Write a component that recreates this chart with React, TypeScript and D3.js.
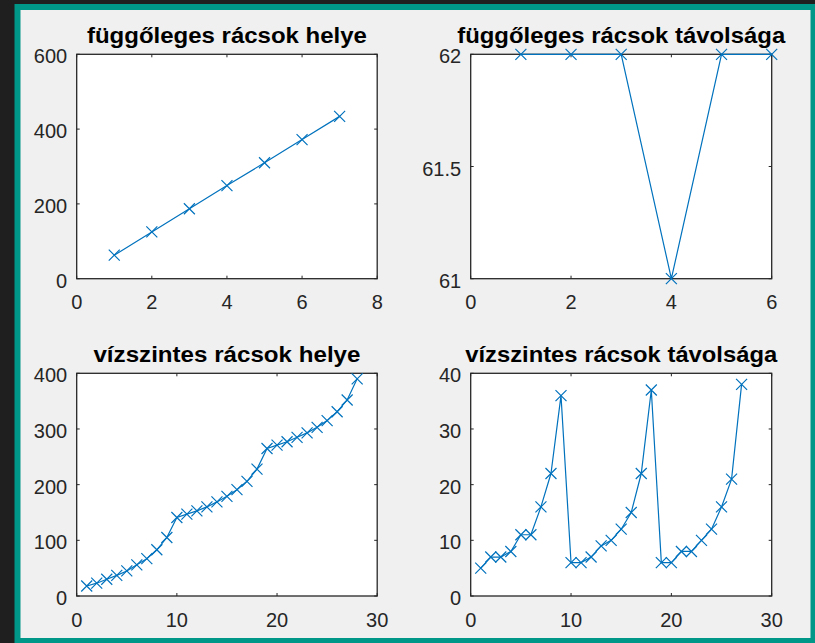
import React from "react";
import * as d3 from "d3";

// Vertical grid lines: positions and spacing
const vertIndex = [1, 2, 3, 4, 5, 6, 7];
const vertPos = [63, 125, 187, 249, 310, 372, 434];
const vertGapIndex = [1, 2, 3, 4, 5, 6];
const vertGap = [62, 62, 62, 61, 62, 62];

// Horizontal grid lines: positions and spacing
const horIndex = [
  1, 2, 3, 4, 5, 6, 7, 8, 9, 10, 11, 12, 13, 14, 15, 16, 17, 18, 19, 20, 21, 22, 23, 24, 25, 26, 27, 28,
];
const horPos = [
  18, 23, 30, 37, 45, 56, 67, 83, 105, 141, 147, 153, 160, 169, 179, 191, 206, 228, 265, 271, 277, 285,
  293, 303, 315, 331, 352, 390,
];
const horGapIndex = [
  1, 2, 3, 4, 5, 6, 7, 8, 9, 10, 11, 12, 13, 14, 15, 16, 17, 18, 19, 20, 21, 22, 23, 24, 25, 26, 27,
];
const horGap = [
  5, 7, 7, 8, 11, 11, 16, 22, 36, 6, 6, 7, 9, 10, 12, 15, 22, 37, 6, 6, 8, 8, 10, 12, 16, 21, 38,
];

const titles = [
  "függőleges rácsok helye",
  "függőleges rácsok távolsága",
  "vízszintes rácsok helye",
  "vízszintes rácsok távolsága",
];
const titleWidths = [280, 328, 267, 312];

const xTicksTL = [0, 2, 4, 6, 8];
const yTicksTL = [0, 200, 400, 600];
const xTicksTR = [0, 2, 4, 6];
const yTicksTR = [61, 61.5, 62];
const xTicksB = [0, 10, 20, 30];
const yTicksBL = [0, 100, 200, 300, 400];
const yTicksBR = [0, 10, 20, 30, 40];

const W = 815;
const H = 643;
const LINE = "#0072BD";
const AXIS = "#262626";
const FONT = "Arial, 'Liberation Sans', Helvetica, sans-serif";

type PanelProps = {
  left: number;
  top: number;
  width: number;
  height: number;
  title: string;
  titleWidth: number;
  xs: number[];
  ys: number[];
  xDomain: [number, number];
  yDomain: [number, number];
  xTicks: number[];
  yTicks: number[];
};

function Panel(p: PanelProps) {
  const x = d3.scaleLinear().domain(p.xDomain).range([p.left, p.left + p.width]);
  const y = d3.scaleLinear().domain(p.yDomain).range([p.top + p.height, p.top]);
  const pts = p.xs.map((v, i) => [x(v), y(p.ys[i])] as [number, number]);
  const path = d3.line()(pts) ?? "";
  const tl = 3;
  const m = 5.5;
  const bottom = p.top + p.height;
  const right = p.left + p.width;
  return (
    <g>
      <rect x={p.left} y={p.top} width={p.width} height={p.height} fill="#ffffff" />
      {p.xTicks.map((t) => (
        <g key={"xt" + t}>
          <line x1={x(t)} x2={x(t)} y1={bottom} y2={bottom - tl} stroke={AXIS} strokeWidth={1} />
          <line x1={x(t)} x2={x(t)} y1={p.top} y2={p.top + tl} stroke={AXIS} strokeWidth={1} />
          <text
            x={x(t)}
            y={bottom + 30.5}
            textAnchor="middle"
            fontFamily={FONT}
            fontSize={20}
            fill={AXIS}
          >
            {t}
          </text>
        </g>
      ))}
      {p.yTicks.map((t) => (
        <g key={"yt" + t}>
          <line x1={p.left} x2={p.left + tl} y1={y(t)} y2={y(t)} stroke={AXIS} strokeWidth={1} />
          <line x1={right} x2={right - tl} y1={y(t)} y2={y(t)} stroke={AXIS} strokeWidth={1} />
          <text
            x={p.left - 9.5}
            y={y(t) + 9}
            textAnchor="end"
            fontFamily={FONT}
            fontSize={20}
            fill={AXIS}
          >
            {t}
          </text>
        </g>
      ))}
      <rect
        x={p.left}
        y={p.top}
        width={p.width}
        height={p.height}
        fill="none"
        stroke={AXIS}
        strokeWidth={1.3}
      />
      <path d={path} fill="none" stroke={LINE} strokeWidth={1.2} />
      {pts.map(([px, py], i) => (
        <path
          key={"m" + i}
          d={`M${px - m},${py - m}L${px + m},${py + m}M${px - m},${py + m}L${px + m},${py - m}`}
          stroke={LINE}
          strokeWidth={1.2}
          fill="none"
        />
      ))}
      <text
        x={p.left + p.width / 2}
        y={p.top - 11.5}
        textAnchor="middle"
        fontFamily={FONT}
        fontWeight="bold"
        fontSize={22}
        textLength={p.titleWidth}
        lengthAdjust="spacingAndGlyphs"
        fill="#000000"
      >
        {p.title}
      </text>
    </g>
  );
}

export default function App() {
  const lx = 76.7;
  const rx = 470.7;
  const w = 300.5;
  const ty = 54.3;
  const by = 373.3;
  const hTop = 224.4;
  const hBot = 222.7;
  return (
    <div style={{ position: "fixed", left: 0, top: 0, width: W, height: H }}>
      <svg width={W} height={H} style={{ display: "block" }}>
        <rect x={0} y={0} width={W} height={H} fill="#1f1f1f" />
        <rect x={14.5} y={4} width={W - 14.5} height={H - 4} fill="#009688" />
        <rect x={20.5} y={10} width={790} height={628} fill="#f0f0f0" />
        <Panel
          left={lx}
          top={ty}
          width={w}
          height={hTop}
          title={titles[0]}
          titleWidth={titleWidths[0]}
          xs={vertIndex}
          ys={vertPos}
          xDomain={[0, 8]}
          yDomain={[0, 600]}
          xTicks={xTicksTL}
          yTicks={yTicksTL}
        />
        <Panel
          left={rx}
          top={ty}
          width={w + 0.5}
          height={hTop}
          title={titles[1]}
          titleWidth={titleWidths[1]}
          xs={vertGapIndex}
          ys={vertGap}
          xDomain={[0, 6]}
          yDomain={[61, 62]}
          xTicks={xTicksTR}
          yTicks={yTicksTR}
        />
        <Panel
          left={lx}
          top={by}
          width={w}
          height={hBot}
          title={titles[2]}
          titleWidth={titleWidths[2]}
          xs={horIndex}
          ys={horPos}
          xDomain={[0, 30]}
          yDomain={[0, 400]}
          xTicks={xTicksB}
          yTicks={yTicksBL}
        />
        <Panel
          left={rx}
          top={by}
          width={w + 0.5}
          height={hBot}
          title={titles[3]}
          titleWidth={titleWidths[3]}
          xs={horGapIndex}
          ys={horGap}
          xDomain={[0, 30]}
          yDomain={[0, 40]}
          xTicks={xTicksB}
          yTicks={yTicksBR}
        />
      </svg>
    </div>
  );
}
